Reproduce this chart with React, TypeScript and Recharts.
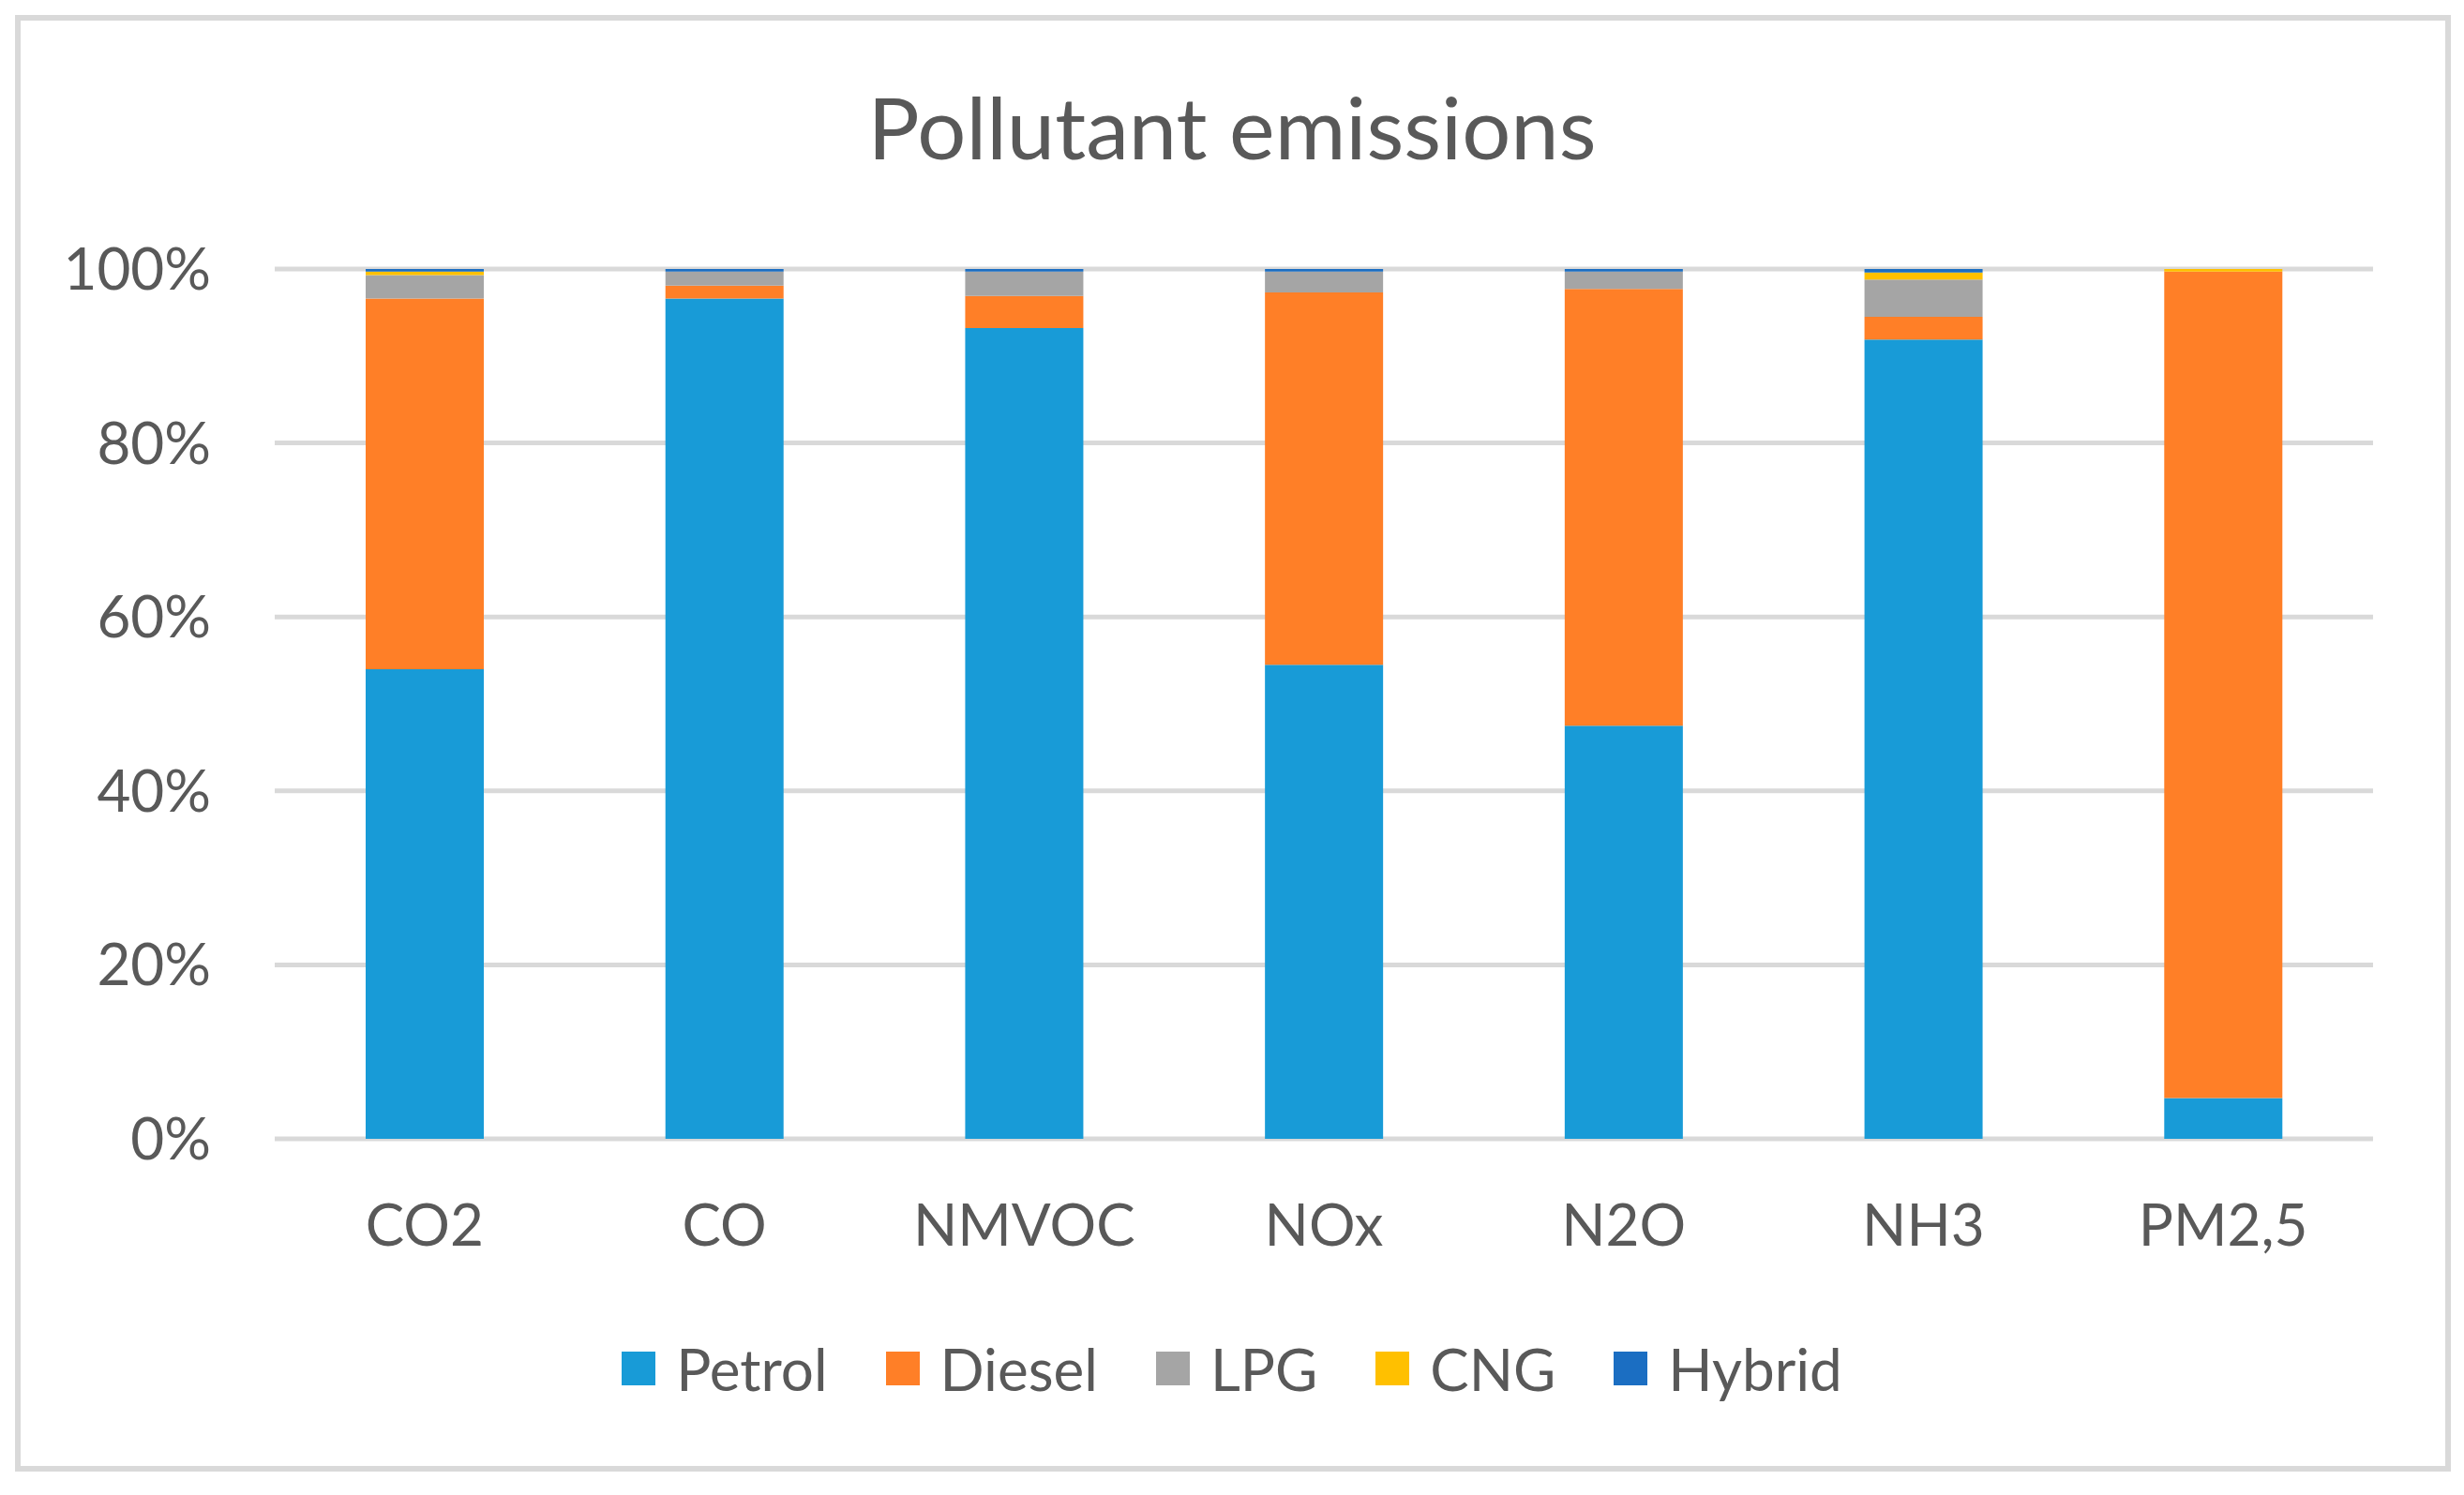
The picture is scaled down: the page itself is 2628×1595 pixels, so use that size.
import React from "react";
import {
  Bar,
  BarChart,
  CartesianGrid,
  Legend,
  XAxis,
  YAxis,
} from "recharts";

const categories = ["CO2", "CO", "NMVOC", "NOx", "N2O", "NH3", "PM2,5"];
const petrol = [54.0, 96.6, 93.2, 54.5, 47.5, 91.9, 4.7];
const diesel = [42.6, 1.5, 3.7, 42.8, 50.2, 2.6, 95.0];
const lpg = [2.7, 1.6, 2.8, 2.4, 2.0, 4.3, 0];
const cng = [0.4, 0, 0, 0, 0, 0.8, 0.3];
const hybrid = [0.3, 0.3, 0.3, 0.3, 0.3, 0.4, 0];
const yTicks = [0, 20, 40, 60, 80, 100];

const series = [
  { key: "Petrol", color: "#189BD7" },
  { key: "Diesel", color: "#FF7F27" },
  { key: "LPG", color: "#A5A5A5" },
  { key: "CNG", color: "#FFC000" },
  { key: "Hybrid", color: "#1B6EC2" },
];
const order = series.map((s) => s.key);

const data = categories.map((name, i) => ({
  name,
  Petrol: petrol[i],
  Diesel: diesel[i],
  LPG: lpg[i],
  CNG: cng[i],
  Hybrid: hybrid[i],
}));

const FONT = "Lato, 'Noto Sans', sans-serif";
const TEXT = "#595959";

function LegendRow({ payload }: any) {
  const items = [...(payload || [])].sort(
    (a: any, b: any) => order.indexOf(a.value) - order.indexOf(b.value)
  );
  return (
    <div
      style={{
        display: "flex",
        justifyContent: "center",
        alignItems: "center",
        height: 80,
        fontFamily: FONT,
        fontSize: 62,
        color: TEXT,
      }}
    >
      {items.map((p: any, i: number) => (
        <div
          key={p.value}
          style={{
            display: "flex",
            alignItems: "center",
            marginLeft: i === 0 ? 0 : 62,
          }}
        >
          <span
            style={{
              width: 36,
              height: 36,
              background: p.color,
              display: "inline-block",
              marginRight: 22,
            }}
          />
          <span>{p.value}</span>
        </div>
      ))}
    </div>
  );
}

export default function App() {
  return (
    <div
      style={{
        position: "absolute",
        left: 0,
        top: 0,
        width: 2628,
        height: 1595,
        background: "#fff",
        fontFamily: FONT,
      }}
    >
      <div
        style={{
          position: "absolute",
          left: 16,
          top: 16,
          width: 2586,
          height: 1542,
          border: "6px solid #d9d9d9",
        }}
      />
      <div
        style={{
          position: "absolute",
          left: 0,
          width: 2628,
          top: 80,
          textAlign: "center",
          fontSize: 92,
          lineHeight: "110px",
          color: TEXT,
        }}
      >
        Pollutant emissions
      </div>
      <BarChart
        width={2628}
        height={1595}
        data={data}
        margin={{ top: 287, right: 97, bottom: 0, left: 0 }}
        style={{ position: "absolute", left: 0, top: 0 }}
      >
        <CartesianGrid
          vertical={false}
          stroke="#d9d9d9"
          strokeWidth={5}
        />
        <XAxis
          dataKey="name"
          height={380}
          axisLine={false}
          tickLine={false}
          tickSize={0}
          tickMargin={70}
          tick={{ fill: TEXT, fontSize: 62, fontFamily: FONT }}
          interval={0}
        />
        <YAxis
          width={293}
          domain={[0, 100]}
          ticks={yTicks}
          allowDataOverflow
          axisLine={false}
          tickLine={false}
          tickSize={0}
          tickMargin={68}
          tickFormatter={(v) => `${v}%`}
          tick={{ fill: TEXT, fontSize: 62, fontFamily: FONT }}
        />
        <Legend
          layout="horizontal"
          verticalAlign="middle"
          align="center"
          wrapperStyle={{ top: 1420, left: 0, width: 2628 }}
          content={<LegendRow />}
        />
        {series.map((s) => (
          <Bar
            key={s.key}
            dataKey={s.key}
            stackId="a"
            fill={s.color}
            barSize={126}
            isAnimationActive={false}
          />
        ))}
      </BarChart>
    </div>
  );
}
